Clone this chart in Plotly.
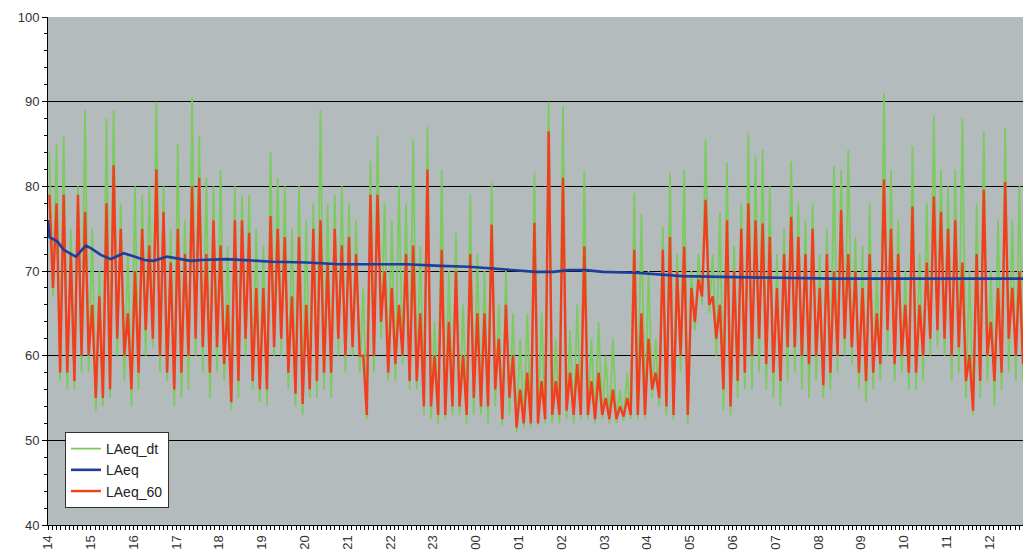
import pandas as pd
import plotly.graph_objects as go

# ---- data: 10-minute bins from 14:00, per bin max / min ----
red_hi = [
    79, 78, 79, 72, 79, 77,          # 14
    66, 67, 78, 82.5, 75, 65,        # 15
    70, 75, 73, 82, 77, 71,          # 16
    75, 72, 80, 81, 72, 76,          # 17
    73, 66, 76, 76, 74.5, 68,        # 18
    68, 76.5, 75, 74, 67, 74,        # 19
    66, 75, 76, 71, 75, 73,          # 20
    74, 72, 60, 79, 79, 70,          # 21
    68, 66, 72, 73, 65, 82,          # 22
    60, 72.5, 64, 70, 60, 72,        # 23
    65, 65, 75.5, 62, 66, 60,        # 00
    56, 58, 75.7, 57, 86.5, 57,      # 01
    81, 58, 59, 72.9, 57, 58,        # 02
    55, 56, 54, 55, 72.5, 65,        # 03
    62, 58, 72.5, 74, 70, 72.9,      # 04
    68, 69, 78.4, 67, 66, 76,        # 05
    70, 75, 78, 76, 75.6, 74,        # 06
    68, 72, 76.4, 74, 72, 75,        # 07
    68, 72, 70, 77.2, 72, 70,        # 08
    68, 72, 65, 80.8, 75, 72,        # 09
    66, 77.6, 66, 71, 78.8, 77,      # 10
    75, 76, 71, 60, 72, 79.6,        # 11
    64, 68, 80.5, 68, 70,            # 12
]
red_lo = [
    68, 58, 58, 57, 60, 60,
    55, 55, 56, 62, 60, 56,
    58, 63, 62, 60, 58, 56,
    58, 60, 62, 61, 58, 61,
    59, 54.5, 57, 62, 57, 56,
    56, 61, 62, 58, 55.5, 54.3,
    56, 57, 58, 58, 62, 60,
    61, 60, 53, 60, 64, 58,
    59, 60, 57, 57, 54, 54,
    53, 53, 54, 54, 53, 55,
    54, 54, 56, 52.5, 55, 51.5,
    52, 52, 52, 52.5, 53, 53,
    53.5, 53, 53, 53, 52.5, 53,
    52.5, 52.5, 52.8, 53, 53, 53,
    56, 55, 54, 53, 60, 53,
    64, 67, 66, 62, 56, 54,
    57, 58, 60, 62, 59, 58,
    57, 61, 61, 60, 59, 60,
    56.5, 58, 60, 62, 61, 58,
    57, 58, 59, 63, 59, 60,
    58, 58, 60, 62, 63, 62,
    60, 61, 57, 53.5, 57, 60,
    57, 58, 62, 60, 59,
]
green_hi = [
    84, 85, 86, 75, 80, 89,
    75, 70, 88, 89, 78, 72,
    80, 79, 80, 90, 80, 75,
    85, 76, 90.5, 86, 81, 80,
    82, 73, 80, 79, 79, 75,
    73, 84, 81, 80, 75, 80,
    76, 78, 89, 78, 79, 80,
    78, 76, 68, 83, 86, 78,
    76, 80, 78, 85.5, 73, 87,
    64, 82, 70, 74.5, 66, 79,
    72, 70, 80.4, 66, 70, 65,
    62, 65, 81.6, 65, 90, 62,
    89.5, 63, 66, 81.8, 62, 64,
    60, 62, 56, 58, 79.2, 76.8,
    70, 62, 75.2, 81.6, 72, 82,
    70, 72, 85.5, 72, 77, 82.8,
    73, 78, 86.3, 83.6, 84.3, 80,
    72, 75, 83, 78, 76, 78,
    72, 75, 82.4, 82, 84.3, 74,
    73, 78, 70, 91, 82, 76,
    70, 84.7, 72, 78, 88.3, 82,
    80, 82, 88, 70, 78, 86.5,
    70, 76, 86.9, 76, 80,
]
green_lo = [
    67, 57, 56, 56, 58, 58,
    53.5, 54, 55, 60, 57, 54,
    56, 60, 61, 58, 57, 54,
    55, 56, 60, 58, 55, 58,
    57, 53.5, 55, 60, 56, 54.5,
    54, 60, 60, 56, 54, 53,
    55, 55, 56, 55, 60, 58,
    60, 58, 52.5, 58, 62, 57,
    57, 59, 56, 56, 53, 52.5,
    52, 52.5, 53, 53, 52, 53,
    53, 52, 54, 51.8, 53, 51,
    51.5, 51.5, 51.8, 52, 52, 52,
    52.5, 52, 52.5, 52.5, 52, 52.5,
    52, 52, 52.3, 52.5, 52.5, 52.5,
    55, 54, 53, 52.5, 58, 52,
    63, 66, 65, 60, 53.5, 53,
    55, 56, 56, 58, 56, 55,
    54, 57, 58, 56, 55, 57,
    55, 56, 58, 60, 59, 56,
    54.5, 56, 57, 60, 57, 58,
    56, 56, 57, 60, 61, 60,
    57, 58, 55, 53, 55, 57,
    54, 56, 58, 57, 57,
]
# running LAeq: minutes after 14:00 and level
blue_min = [0, 2, 13, 22, 39, 53, 60, 74, 88, 106, 121, 135, 148, 167, 200, 215, 250,
            269, 315, 363, 409, 456, 503, 550, 590, 638, 684, 708, 730, 754, 778, 824,
            865, 889, 983, 1099, 1367]
blue_val = [76.0, 74.0, 73.5, 72.5, 71.7, 73.0, 72.7, 71.9, 71.4, 72.1, 71.7, 71.3, 71.2,
            71.7, 71.2, 71.3, 71.4, 71.3, 71.1, 71.0, 70.8, 70.8, 70.8, 70.6, 70.5, 70.2,
            69.9, 69.9, 70.1, 70.1, 69.9, 69.8, 69.5, 69.4, 69.25, 69.1, 69.1]

start = pd.Timestamp("2000-01-01 14:00")
end = pd.Timestamp("2000-01-02 12:47")
n = len(red_hi)
bins = pd.date_range(start, periods=n, freq="10min")

def zigzag(hi, lo):
    xs, ys = [], []
    for t, h, l in zip(bins, hi, lo):
        xs += [t + pd.Timedelta(minutes=2), t + pd.Timedelta(minutes=7)]
        ys += [h, l]
    return xs, ys

gx, gy = zigzag(green_hi, green_lo)
rx, ry = zigzag(red_hi, red_lo)
bx = [start + pd.Timedelta(minutes=m) for m in blue_min]

GREEN = "#7CCB5E"
RED = "#F03E1E"
BLUE = "#1F3E98"

fig = go.Figure()
fig.add_trace(go.Scatter(x=gx, y=gy, mode="lines", name="LAeq_dt",
                         line=dict(color=GREEN, width=1.8), legendrank=1))
fig.add_trace(go.Scatter(x=rx, y=ry, mode="lines", name="LAeq_60",
                         line=dict(color=RED, width=2.4), legendrank=3))
fig.add_trace(go.Scatter(x=bx, y=blue_val, mode="lines", name="LAeq",
                         line=dict(color=BLUE, width=2.6), legendrank=2))

tickfont = dict(family="Liberation Sans, Arial, sans-serif", size=13, color="#333333")

fig.update_layout(
    width=1023, height=554,
    margin=dict(l=48, r=0, t=17, b=29),
    paper_bgcolor="white",
    plot_bgcolor="#B4BBBC",
    showlegend=True,
    legend=dict(x=0.0174, y=0.183, xanchor="left", yanchor="top",
                bgcolor="white", bordercolor="#333333", borderwidth=1,
                font=dict(family="Liberation Sans, Arial, sans-serif", size=14, color="#222222"),
                tracegroupgap=0),
    xaxis=dict(type="date", range=[start, end], tickformat="%H", dtick=3600000,
               tick0=start, tickangle=-90, tickfont=tickfont,
               showgrid=False, showline=True, linecolor="black", linewidth=1,
               ticks="outside", ticklen=4, tickcolor="black",
               minor=dict(dtick=360000, ticks="outside", ticklen=4, tickcolor="black"),
               zeroline=False),
    xaxis2=dict(type="date", range=[start, end], overlaying="x", anchor="y", side="bottom",
                dtick=3600000, tick0=start, showticklabels=False, showgrid=False,
                showline=False, ticks="inside", ticklen=3, tickcolor="black",
                minor=dict(dtick=360000, ticks="inside", ticklen=3, tickcolor="black")),
    yaxis=dict(range=[40, 100], tickvals=[40, 50, 60, 70, 80, 90, 100],
               tickfont=tickfont, showgrid=True, gridcolor="black", gridwidth=1,
               showline=True, linecolor="black", linewidth=1,
               ticks="outside", ticklen=5, tickcolor="black",
               minor=dict(dtick=2, ticks="outside", ticklen=3, tickcolor="black", showgrid=False),
               zeroline=False),
)

fig.write_html("out.html")
